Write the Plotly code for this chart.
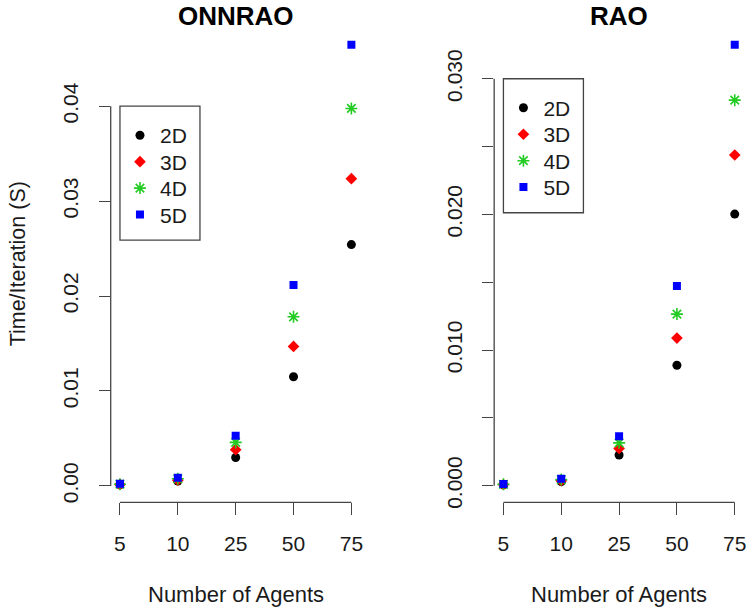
import plotly.graph_objects as go

# ---------------- data ----------------
agents = ["5", "10", "25", "50", "75"]
xpos = [1, 2, 3, 4, 5]
series_names = ["2D", "3D", "4D", "5D"]

onnrao_2d = [0.00012, 0.00052, 0.00299, 0.01150, 0.02542]
onnrao_3d = [0.00015, 0.00060, 0.00382, 0.01469, 0.03236]
onnrao_4d = [0.00018, 0.00075, 0.00458, 0.01781, 0.03976]
onnrao_5d = [0.00022, 0.00087, 0.00528, 0.02115, 0.04646]

rao_2d = [0.00007, 0.00030, 0.00226, 0.00888, 0.02002]
rao_3d = [0.00009, 0.00037, 0.00275, 0.01088, 0.02438]
rao_4d = [0.00010, 0.00045, 0.00316, 0.01265, 0.02842]
rao_5d = [0.00012, 0.00051, 0.00365, 0.01472, 0.03250]

onnrao_yticks = [0.00, 0.01, 0.02, 0.03, 0.04]
onnrao_yticktext = ["0.00", "0.01", "0.02", "0.03", "0.04"]
rao_yticks = [0.000, 0.005, 0.010, 0.015, 0.020, 0.025, 0.030]
rao_yticktext = ["0.000", "", "0.010", "", "0.020", "", "0.030"]

# ---------------- styling ----------------
W, H = 747, 615
FONT = "Liberation Sans, Arial, sans-serif"
TXT = "#1a1a1a"
AX = "#444444"
FS = 21

styles = [
    dict(symbol="circle", color="black", size=9, line=dict(width=0)),
    dict(symbol="diamond", color="#FF0000", size=9, line=dict(width=0)),
    dict(symbol="asterisk-open", color="#22CC22", size=10, line=dict(width=1.6, color="#22CC22")),
    dict(symbol="square", color="#0000FF", size=8, line=dict(width=0)),
]

def rng(vals_list):
    allv = [v for vals in vals_list for v in vals]
    lo, hi = min(allv), max(allv)
    r = hi - lo
    return [lo - 0.04 * r, hi + 0.04 * r]

xr = [min(xpos) - 0.04 * (max(xpos) - min(xpos)), max(xpos) + 0.04 * (max(xpos) - min(xpos))]

ydom = [1 - 507.3 / H, 1 - 27.5 / H]
xdom1 = [111.0 / W, 361.6 / W]
xdom2 = [495.5 / W, 746.0 / W]

panels = [
    dict(name="ONNRAO", data=[onnrao_2d, onnrao_3d, onnrao_4d, onnrao_5d],
         yticks=onnrao_yticks, ytext=onnrao_yticktext, xdom=xdom1, xa="x", ya="y"),
    dict(name="RAO", data=[rao_2d, rao_3d, rao_4d, rao_5d],
         yticks=rao_yticks, ytext=rao_yticktext, xdom=xdom2, xa="x2", ya="y2"),
]

fig = go.Figure()
shapes = []
annotations = []
layout = dict(width=W, height=H, autosize=False,
              margin=dict(l=0, r=0, t=0, b=0, pad=0),
              paper_bgcolor="white", plot_bgcolor="white",
              font=dict(family=FONT, size=FS, color=TXT))

BOX_W, BOX_H = 80, 134
FIRST_ROW, ROW_STEP, ITEM_OFF = 27.3, 26.7, 18.3

leg_idx = 0
for i, p in enumerate(panels):
    yr = rng(p["data"])
    # legend anchor (first x, top y tick) in paper coords, like legend(x, y) in R
    lx = p["xdom"][0] + (min(xpos) - xr[0]) / (xr[1] - xr[0]) * (p["xdom"][1] - p["xdom"][0])
    ly = ydom[0] + (max(p["yticks"]) - yr[0]) / (yr[1] - yr[0]) * (ydom[1] - ydom[0])
    for k, (name, vals, st) in enumerate(zip(series_names, p["data"], styles)):
        leg_idx += 1
        lname = "legend" if leg_idx == 1 else "legend%d" % leg_idx
        fig.add_trace(go.Scatter(
            x=xpos, y=vals, mode="markers", name=name,
            marker=dict(symbol=st["symbol"], color=st["color"], size=st["size"], line=st["line"]),
            xaxis=p["xa"], yaxis=p["ya"], legend=lname, showlegend=True,
        ))
        layout[lname] = dict(
            x=lx, y=ly - (FIRST_ROW + ROW_STEP * k - ITEM_OFF) / H,
            xanchor="left", yanchor="top",
            bgcolor="rgba(0,0,0,0)", borderwidth=0,
            font=dict(size=FS, color=TXT, family=FONT),
            itemsizing="trace",
        )
    suffix = "" if i == 0 else "2"
    layout["xaxis" + suffix] = dict(
        domain=p["xdom"], range=xr, anchor=p["ya"],
        tickmode="array", tickvals=xpos, ticktext=agents,
        ticks="outside", ticklen=12, tickwidth=1.3, tickcolor=AX,
        showline=False, showgrid=False, zeroline=False,
        tickfont=dict(size=FS, color=TXT, family=FONT),
        ticklabelstandoff=10, ticklabeloverflow="allow",
    )
    layout["yaxis" + suffix] = dict(
        domain=ydom, range=yr, anchor=p["xa"],
        tickmode="array", tickvals=p["yticks"], ticktext=p["ytext"],
        ticks="outside", ticklen=11, tickwidth=1.3, tickcolor=AX,
        showline=False, showgrid=False, zeroline=False,
        tickangle=-90,
        tickfont=dict(size=FS, color=TXT, family=FONT),
        ticklabelstandoff=12,
    )
    # R-style axis lines spanning only the tick range
    shapes.append(dict(type="line", xref=p["xa"] + " domain", yref=p["ya"],
                       x0=0, x1=0, y0=min(p["yticks"]), y1=max(p["yticks"]),
                       line=dict(color=AX, width=1.3)))
    shapes.append(dict(type="line", xref=p["xa"], yref=p["ya"] + " domain",
                       x0=min(xpos), x1=max(xpos), y0=0, y1=0,
                       line=dict(color=AX, width=1.3)))
    # legend box
    shapes.append(dict(type="rect", xref=p["xa"], yref=p["ya"],
                       xsizemode="pixel", ysizemode="pixel",
                       xanchor=min(xpos), yanchor=max(p["yticks"]),
                       x0=0, x1=BOX_W, y0=-BOX_H, y1=0,
                       line=dict(color=AX, width=1.3), fillcolor="rgba(0,0,0,0)"))
    # titles
    annotations.append(dict(text="<b>%s</b>" % p["name"], xref=p["xa"] + " domain", yref="paper",
                            x=0.5, y=1 - 16 / H, xanchor="center", yanchor="middle",
                            showarrow=False, font=dict(size=26, color="black", family=FONT)))
    annotations.append(dict(text="Number of Agents", xref=p["xa"] + " domain", yref="paper",
                            x=0.5, y=1 - 600 / H, xanchor="center", yanchor="middle",
                            showarrow=False, font=dict(size=22, color=TXT, family=FONT)))

annotations.append(dict(text="Time/Iteration (S)", xref="paper", yref="paper",
                        x=18 / W, y=1 - 266 / H, xanchor="center", yanchor="middle",
                        textangle=-90, showarrow=False,
                        font=dict(size=21.5, color=TXT, family=FONT)))

layout["shapes"] = shapes
layout["annotations"] = annotations
fig.update_layout(**layout)
fig.write_html("out.html")
